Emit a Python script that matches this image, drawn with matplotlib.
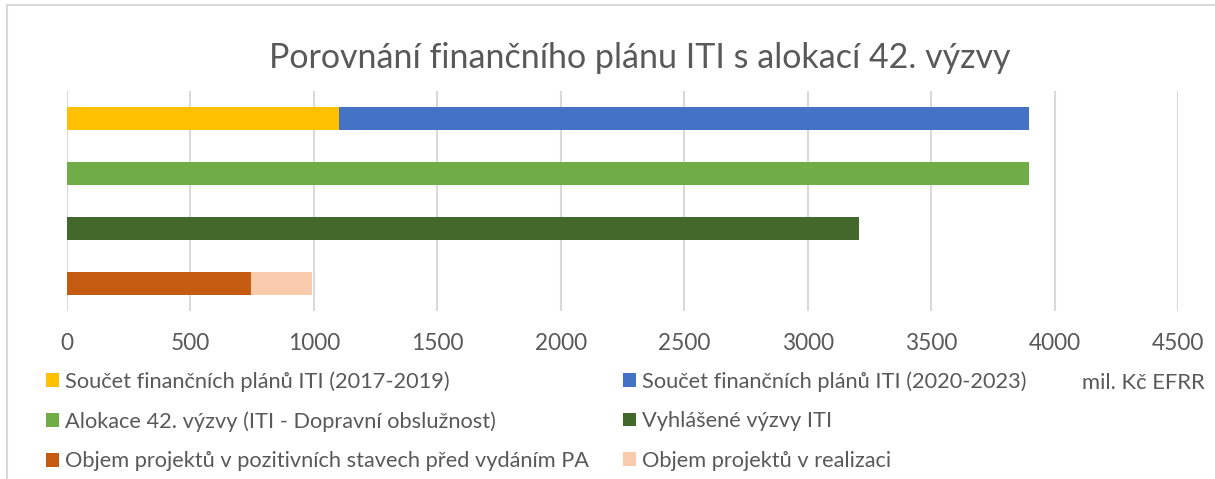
import matplotlib.pyplot as plt
from matplotlib.patches import Patch
from matplotlib.lines import Line2D

plt.rcParams['font.family'] = ['Lato', 'DejaVu Sans']

# data (mil. Kč EFRR), one row per bar, top to bottom
rows = [0, 1, 2, 3]
plan_2017_2019 = [1102, 0, 0, 0]
plan_2020_2023 = [2794, 0, 0, 0]
alokace_42 = [0, 3896, 0, 0]
vyhlasene = [0, 0, 3208, 0]
pozitivni_pa = [0, 0, 0, 745]
realizace = [0, 0, 0, 247]

labels = [
    "Součet finančních plánů ITI (2017-2019)",
    "Součet finančních plánů ITI (2020-2023)",
    "Alokace 42. výzvy (ITI - Dopravní obslužnost)",
    "Vyhlášené výzvy ITI",
    "Objem projektů v pozitivních stavech před vydáním PA",
    "Objem projektů v realizaci",
]
colors = ["#ffc000", "#4472c4", "#70ad47", "#43682b", "#c55a11", "#f8cbad"]
xticks = [0, 500, 1000, 1500, 2000, 2500, 3000, 3500, 4000, 4500]

W, H = 1215, 479
fig = plt.figure(figsize=(W / 100, H / 100), dpi=100)
ax = fig.add_axes([67 / W, 1 - 311 / H, (1178 - 67) / W, (311 - 91) / H])

h = 0.42
ax.barh(rows, plan_2017_2019, height=h, color=colors[0], zorder=2)
ax.barh(rows, plan_2020_2023, left=plan_2017_2019, height=h, color=colors[1], zorder=2)
ax.barh(rows, alokace_42, height=h, color=colors[2], zorder=2)
ax.barh(rows, vyhlasene, height=h, color=colors[3], zorder=2)
ax.barh(rows, pozitivni_pa, height=h, color=colors[4], zorder=2)
ax.barh(rows, realizace, left=pozitivni_pa, height=h, color=colors[5], zorder=2)

ax.set_xlim(0, 4500)
ax.set_ylim(3.5, -0.5)
ax.set_xticks(xticks)
ax.set_yticks([])
ax.grid(axis='x', color='#d9d9d9', linewidth=1.5, zorder=0)
for s in ax.spines.values():
    s.set_visible(False)
ax.tick_params(axis='x', length=0, pad=16, labelsize=16.3, labelcolor='#595959')

fig.text(640 / W, 1 - 58 / H, "Porovnání finančního plánu ITI s alokací 42. výzvy",
         ha='center', va='center', fontsize=24.5, color='#595959')

handles = [Patch(facecolor=c, edgecolor='none') for c in colors]
leg_kw = dict(frameon=False, fontsize=15.7, labelcolor='#595959', handlelength=0.6,
              handleheight=0.6, handletextpad=0.28, labelspacing=0.9,
              borderpad=0, borderaxespad=0, loc='upper left')
leg1 = fig.legend(handles[0::2], labels[0::2], bbox_to_anchor=(46 / W, 1 - 371 / H), **leg_kw)
leg2 = fig.legend(handles[1::2], labels[1::2], bbox_to_anchor=(623 / W, 1 - 371 / H), **leg_kw)

fig.text(1205 / W, 1 - 383 / H, "mil. Kč EFRR", ha='right', va='center',
         fontsize=15.8, color='#595959')

# chart border (top and left edges visible)
fig.add_artist(Line2D([7 / W, 7 / W], [0, 1 - 5 / H], color='#d9d9d9', linewidth=1.5))
fig.add_artist(Line2D([7 / W, 1], [1 - 5 / H, 1 - 5 / H], color='#d9d9d9', linewidth=1.5))

fig.savefig("out.png", dpi=100, facecolor='white')
